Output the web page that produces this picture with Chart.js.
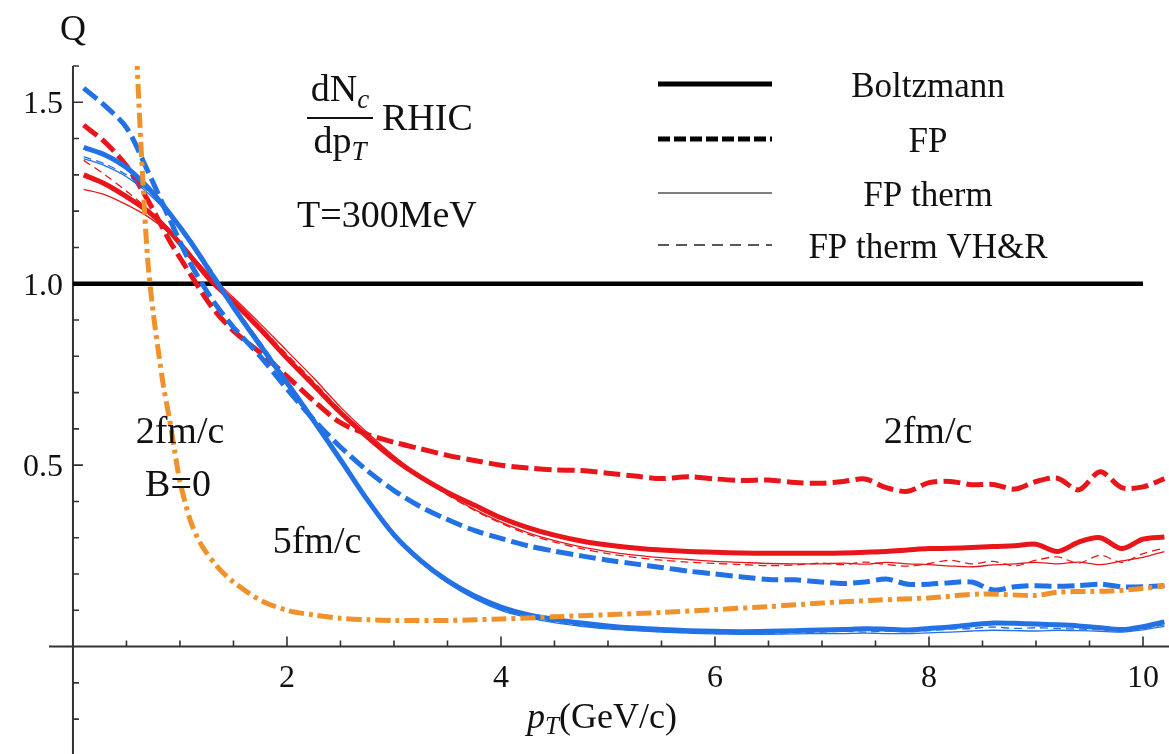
<!DOCTYPE html>
<html>
<head>
<meta charset="utf-8">
<script src="https://cdn.jsdelivr.net/npm/chart.js@4.4.1/dist/chart.umd.min.js"></script>
<style>
    html, body { margin: 0; padding: 0; background: #fff; }
    #wrap { width: 1169px; height: 754px; }
</style>
</head>
<body>
<div id="wrap"><canvas id="chart" width="1169" height="754"></canvas></div>
<script>
// shared pT grid (GeV/c) for the RHIC curves
const pT = [0.1, 0.3, 0.5, 0.7, 0.9, 1.1, 1.3, 1.5, 1.75, 2.0, 2.25, 2.5, 2.75, 3.0, 3.25, 3.5, 3.75, 4.0, 4.25, 4.5,
    4.75, 5.0, 5.25, 5.5, 5.75, 6.0, 6.25, 6.5, 6.75, 7.0, 7.2, 7.4, 7.6, 7.8, 8.0, 8.2, 8.4, 8.6, 8.8, 9.0,
    9.2, 9.4, 9.6, 9.8, 10.0, 10.2];

// 2 fm/c (red)
const redBoltzmann = [1.30, 1.275, 1.24, 1.20, 1.145, 1.075, 1.005, 0.95, 0.875, 0.795, 0.72, 0.645, 0.578, 0.517, 0.467, 0.425, 0.39, 0.355, 0.328, 0.307,
    0.291, 0.28, 0.272, 0.266, 0.262, 0.26, 0.258, 0.257, 0.257, 0.257, 0.258, 0.26, 0.262, 0.266, 0.27, 0.271, 0.273, 0.276, 0.278, 0.282,
    0.262, 0.288, 0.30, 0.27, 0.296, 0.302];
const redFP = [1.437, 1.39, 1.325, 1.23, 1.12, 1.025, 0.935, 0.87, 0.81, 0.745, 0.677, 0.617, 0.585, 0.563, 0.545, 0.527, 0.513, 0.50, 0.492, 0.487,
    0.485, 0.478, 0.47, 0.463, 0.468, 0.462, 0.458, 0.459, 0.452, 0.45, 0.455, 0.462, 0.438, 0.428, 0.452, 0.455, 0.446, 0.447, 0.434, 0.455,
    0.464, 0.432, 0.482, 0.438, 0.44, 0.463];
const redTherm = [1.26, 1.245, 1.218, 1.185, 1.14, 1.08, 1.018, 0.962, 0.89, 0.815, 0.74, 0.66, 0.59, 0.525, 0.468, 0.42, 0.378, 0.343, 0.314, 0.292,
    0.275, 0.262, 0.252, 0.245, 0.24, 0.235, 0.232, 0.229, 0.228, 0.228, 0.23, 0.227, 0.232, 0.228, 0.226, 0.222, 0.22, 0.225, 0.228, 0.232,
    0.228, 0.233, 0.226, 0.236, 0.246, 0.262];
const redThermVHR = [1.34, 1.30, 1.255, 1.205, 1.145, 1.078, 1.012, 0.955, 0.882, 0.805, 0.73, 0.652, 0.583, 0.52, 0.465, 0.418, 0.376, 0.34, 0.31, 0.288,
    0.27, 0.256, 0.246, 0.238, 0.233, 0.229, 0.226, 0.223, 0.225, 0.23, 0.226, 0.233, 0.226, 0.222, 0.229, 0.238, 0.228, 0.235, 0.222, 0.238,
    0.247, 0.23, 0.252, 0.232, 0.256, 0.272];

// 5 fm/c (blue)
const blueBoltzmann = [1.376, 1.355, 1.32, 1.265, 1.195, 1.115, 1.025, 0.935, 0.83, 0.727, 0.622, 0.515, 0.405, 0.308, 0.237, 0.182, 0.14, 0.109, 0.088, 0.075,
    0.065, 0.057, 0.051, 0.047, 0.044, 0.042, 0.041, 0.042, 0.044, 0.046, 0.047, 0.049, 0.048, 0.046, 0.05, 0.054, 0.06, 0.065, 0.064, 0.062,
    0.06, 0.057, 0.052, 0.047, 0.055, 0.068];
const blueFP = [1.539, 1.49, 1.43, 1.31, 1.18, 1.055, 0.957, 0.88, 0.80, 0.71, 0.625, 0.55, 0.485, 0.43, 0.385, 0.35, 0.32, 0.298, 0.278, 0.263,
    0.25, 0.238, 0.228, 0.218, 0.208, 0.20, 0.192, 0.185, 0.184, 0.178, 0.174, 0.178, 0.186, 0.172, 0.172, 0.176, 0.178, 0.156, 0.165, 0.168,
    0.166, 0.168, 0.172, 0.165, 0.165, 0.168];
const blueTherm = [1.345, 1.325, 1.295, 1.25, 1.19, 1.115, 1.03, 0.94, 0.838, 0.733, 0.628, 0.518, 0.408, 0.306, 0.232, 0.176, 0.132, 0.10, 0.08, 0.066,
    0.056, 0.049, 0.044, 0.04, 0.037, 0.035, 0.034, 0.034, 0.035, 0.036, 0.036, 0.037, 0.036, 0.036, 0.038, 0.04, 0.043, 0.045, 0.044, 0.043,
    0.045, 0.044, 0.042, 0.04, 0.046, 0.056];
const blueThermVHR = [1.35, 1.33, 1.30, 1.255, 1.195, 1.12, 1.035, 0.942, 0.84, 0.735, 0.63, 0.52, 0.41, 0.309, 0.234, 0.178, 0.134, 0.102, 0.082, 0.068,
    0.058, 0.05, 0.045, 0.041, 0.038, 0.036, 0.036, 0.037, 0.038, 0.04, 0.042, 0.04, 0.043, 0.041, 0.044, 0.048, 0.05, 0.054, 0.05, 0.052,
    0.05, 0.048, 0.046, 0.044, 0.05, 0.06];

// 2 fm/c, B=0 (orange), own grid because it is so steep at small pT
const orangePT = [0.55, 0.6, 0.65, 0.7, 0.75, 0.8, 0.85, 0.9, 0.95, 1.0, 1.1, 1.2, 1.35, 1.5, 1.75, 2.0, 2.25, 2.5, 2.75, 3.0,
    3.5, 4.0, 4.5, 5.0, 5.5, 6.0, 6.5, 7.0, 7.5, 8.0, 8.5, 9.0, 9.2, 9.5, 9.7, 10.0, 10.2];
const orangeB0 = [1.95, 1.6, 1.3, 1.06, 0.92, 0.81, 0.71, 0.63, 0.54, 0.455, 0.345, 0.28, 0.22, 0.178, 0.128, 0.10, 0.087, 0.078, 0.074, 0.072,
    0.072, 0.076, 0.082, 0.088, 0.094, 0.102, 0.11, 0.12, 0.128, 0.134, 0.145, 0.141, 0.15, 0.152, 0.153, 0.16, 0.167];

// Boltzmann reference Q = 1
const refPT = [0, 10];
const refQ = [1, 1];

// axis ticks
const xTickLabels = [2, 4, 6, 8, 10];
const xMinorTicks = [0.5, 1, 1.5, 2, 2.5, 3, 3.5, 4, 4.5, 5, 5.5, 6, 6.5, 7, 7.5, 8, 8.5, 9, 9.5, 10];
const yTickLabels = [0.5, 1.0, 1.5];
const yMinorTicks = [-0.2, -0.1, 0.1, 0.2, 0.3, 0.4, 0.5, 0.6, 0.7, 0.8, 0.9, 1.0, 1.1, 1.2, 1.3, 1.4, 1.5, 1.6];

const RED = '#e8161b';
const BLUE = '#2272e6';
const ORANGE = '#f0922b';
const SERIF = '"Liberation Serif", "Times New Roman", serif';

function pts(xs, ys) {
    return xs.map((v, i) => ({ x: v, y: ys[i] }));
}

function curve(label, xs, ys, color, width, dash) {
    return {
        label: label,
        data: pts(xs, ys),
        borderColor: color,
        borderWidth: width,
        borderDash: dash || [],
        borderJoinStyle: 'round',
        pointRadius: 0,
        fill: false,
        tension: 0.3
    };
}

// draws a row of text runs [text, style, size, dy] starting at x
function drawRuns(ctx, runs, x, y, align) {
    let total = 0;
    runs.forEach(r => {
        ctx.font = `${r[1]} ${r[2]}px ${SERIF}`;
        total += ctx.measureText(r[0]).width;
    });
    let cx = align === 'center' ? x - total / 2 : x;
    runs.forEach(r => {
        ctx.font = `${r[1]} ${r[2]}px ${SERIF}`;
        ctx.fillText(r[0], cx, y + (r[3] || 0));
        cx += ctx.measureText(r[0]).width;
    });
}

const axesPlugin = {
    id: 'axesPlugin',
    beforeDatasetsDraw(chart) {
        const { ctx, chartArea, scales: { x, y } } = chart;
        const x0 = x.getPixelForValue(0);
        const y0 = y.getPixelForValue(0);
        ctx.save();
        ctx.strokeStyle = '#333';
        ctx.lineWidth = 2;
        ctx.beginPath();
        ctx.moveTo(chartArea.left, y0);
        ctx.lineTo(chartArea.right, y0);
        ctx.moveTo(x0, chartArea.top);
        ctx.lineTo(x0, chartArea.bottom);
        ctx.stroke();

        ctx.lineWidth = 1.6;
        ctx.beginPath();
        xMinorTicks.forEach(v => {
            const px = x.getPixelForValue(v);
            const len = xTickLabels.includes(v) ? 10 : 6;
            ctx.moveTo(px, y0);
            ctx.lineTo(px, y0 - len);
        });
        yMinorTicks.forEach(v => {
            const py = y.getPixelForValue(v);
            const len = yTickLabels.includes(v) ? 10 : 6;
            ctx.moveTo(x0, py);
            ctx.lineTo(x0 + len, py);
        });
        ctx.stroke();

        ctx.fillStyle = '#111';
        ctx.font = `32px ${SERIF}`;
        ctx.textAlign = 'center';
        ctx.textBaseline = 'alphabetic';
        xTickLabels.forEach(v => {
            ctx.fillText(String(v), x.getPixelForValue(v), y0 + 40);
        });
        ctx.textAlign = 'right';
        yTickLabels.forEach(v => {
            ctx.fillText(v.toFixed(1), x0 - 10, y.getPixelForValue(v) + 11);
        });
        ctx.restore();
    },
    afterDraw(chart) {
        const { ctx } = chart;
        ctx.save();
        ctx.fillStyle = '#111';
        ctx.textAlign = 'left';
        ctx.textBaseline = 'alphabetic';

        // axis titles
        drawRuns(ctx, [['Q', 'normal', 36]], 73, 40, 'center');
        drawRuns(ctx, [['p', 'italic', 36], ['T', 'italic', 25, 6], ['(GeV/c)', 'normal', 36]], 602, 728, 'center');

        // dNc/dpT RHIC
        drawRuns(ctx, [['dN', 'normal', 38], ['c', 'italic', 27, 7]], 340, 101, 'center');
        ctx.fillRect(307, 117, 66, 2);
        drawRuns(ctx, [['dp', 'normal', 38], ['T', 'italic', 27, 7]], 340, 153, 'center');
        drawRuns(ctx, [['RHIC', 'normal', 38]], 382, 130, 'left');
        drawRuns(ctx, [['T=300MeV', 'normal', 38]], 297, 227, 'left');

        // curve annotations
        drawRuns(ctx, [['2fm/c', 'normal', 38]], 180, 443, 'center');
        drawRuns(ctx, [['B=0', 'normal', 38]], 178, 496, 'center');
        drawRuns(ctx, [['5fm/c', 'normal', 38]], 317, 553, 'center');
        drawRuns(ctx, [['2fm/c', 'normal', 38]], 928, 443, 'center');

        // legend (line style key, drawn in black)
        const rows = [
            { text: 'Boltzmann', y: 84, width: 5, dash: [], color: '#000' },
            { text: 'FP', y: 139, width: 5, dash: [12, 4], color: '#000' },
            { text: 'FP therm', y: 193, width: 1.3, dash: [], color: '#555' },
            { text: 'FP therm VH&R', y: 245, width: 1.3, dash: [11, 7], color: '#222' }
        ];
        rows.forEach(r => {
            ctx.save();
            ctx.strokeStyle = r.color;
            ctx.lineWidth = r.width;
            ctx.setLineDash(r.dash);
            ctx.beginPath();
            ctx.moveTo(658, r.y);
            ctx.lineTo(772, r.y);
            ctx.stroke();
            ctx.restore();
            drawRuns(ctx, [[r.text, 'normal', 35]], 928, r.y + 13, 'center');
        });
        ctx.restore();
    }
};

const datasets = [
    curve('2fm/c B=0', orangePT, orangeB0, ORANGE, 5, [15, 5, 4, 5]),
    curve('5fm/c Boltzmann', pT, blueBoltzmann, BLUE, 5),
    curve('5fm/c FP', pT, blueFP, BLUE, 5, [17, 6]),
    curve('5fm/c FP therm', pT, blueTherm, BLUE, 1.3),
    curve('5fm/c FP therm VH&R', pT, blueThermVHR, BLUE, 1.3, [8, 5]),
    curve('2fm/c Boltzmann', pT, redBoltzmann, RED, 5),
    curve('2fm/c FP', pT, redFP, RED, 5, [17, 6]),
    curve('2fm/c FP therm', pT, redTherm, RED, 1.3),
    curve('2fm/c FP therm VH&R', pT, redThermVHR, RED, 1.3, [8, 5]),
    curve('Boltzmann', refPT, refQ, '#000', 4.5)
];

new Chart(document.getElementById('chart'), {
    type: 'line',
    data: { datasets: datasets },
    options: {
        responsive: false,
        animation: false,
        events: [],
        layout: { padding: { left: 49, top: 66, right: 0, bottom: 0 } },
        plugins: {
            legend: { display: false },
            tooltip: { enabled: false }
        },
        scales: {
            x: { type: 'linear', min: -0.224, max: 10.243, display: false },
            y: { type: 'linear', min: -0.296, max: 1.6, display: false }
        }
    },
    plugins: [axesPlugin]
});
</script>
</body>
</html>
